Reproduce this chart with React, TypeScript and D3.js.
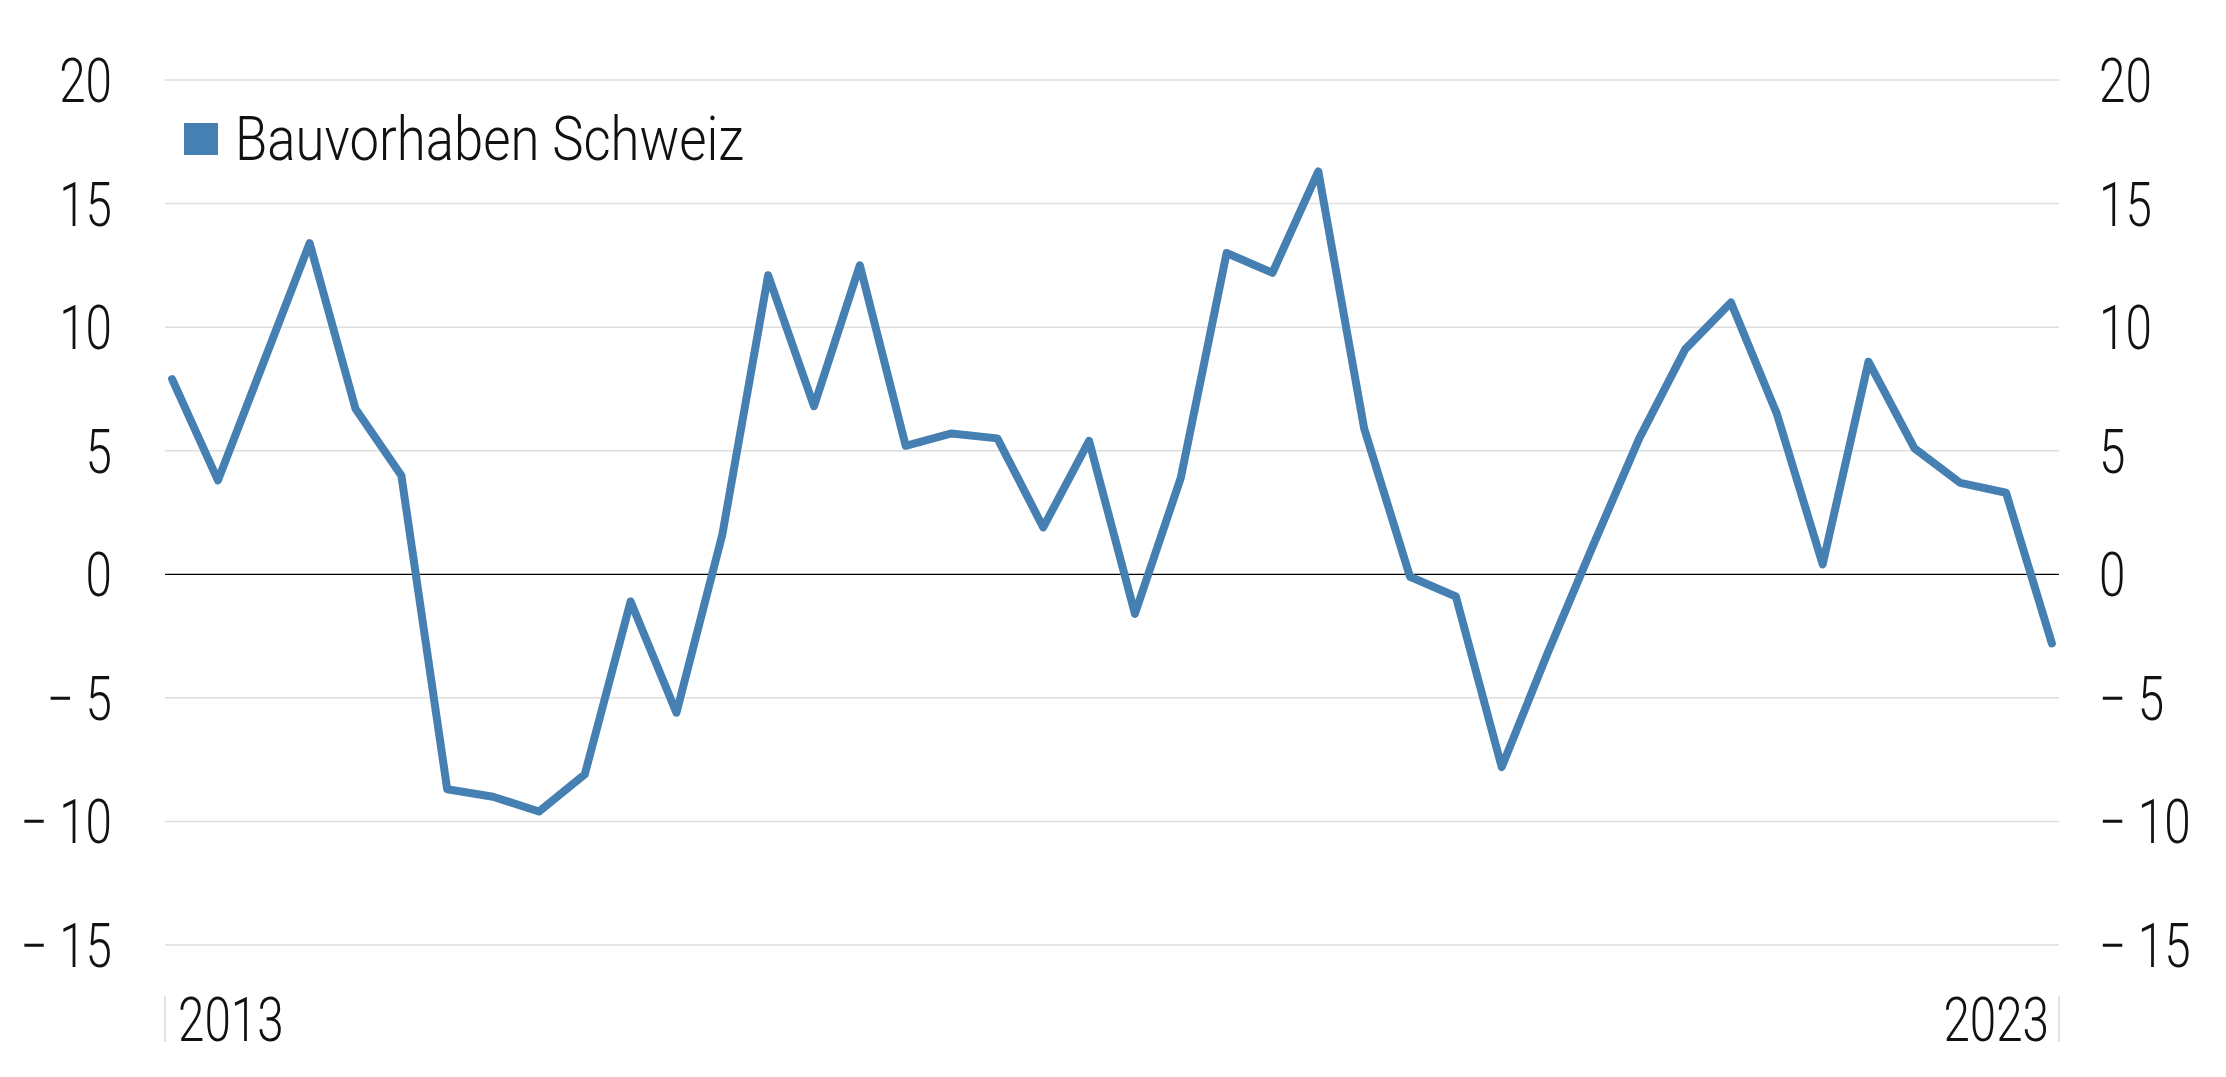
import * as d3 from "d3";

// Bauvorhaben Schweiz, quarterly 2013 Q1 – 2023 Q2 (%)
const quarters: string[] = [];
for (let y = 2013; y <= 2023; y++) {
  for (let q = 1; q <= 4; q++) {
    if (y === 2023 && q > 2) break;
    quarters.push(`${y}Q${q}`);
  }
}

const values = [
  7.9, 3.8, 8.6, 13.4, 6.7, 4.0, -8.7, -9.0, -9.6, -8.1,
  -1.1, -5.6, 1.6, 12.1, 6.8, 12.5, 5.2, 5.7, 5.5, 1.9,
  5.4, -1.6, 3.9, 13.0, 12.2, 16.3, 5.9, -0.1, -0.9, -7.8,
  -3.2, 1.2, 5.5, 9.1, 11.0, 6.5, 0.4, 8.6, 5.1, 3.7,
  3.3, -2.8,
];

const yTicks = [20, 15, 10, 5, 0, -5, -10, -15];
const yearLabels = ["2013", "2023"];
const seriesName = "Bauvorhaben Schweiz";

const W = 2226;
const H = 1077;
const left = 165;
const right = 2059;
const top = 80;
const bottom = 945;
const FONT = "Roboto, 'Liberation Sans Narrow', 'DejaVu Sans Condensed', sans-serif";
const SX = 0.78;

const fmt = (v: number) => (v < 0 ? `\u2212 ${Math.abs(v)}` : `${v}`);

export default function App() {
  const x = d3.scalePoint<string>().domain(quarters).range([left, right]).padding(0.155);
  const y = d3.scaleLinear().domain([-15, 20]).range([bottom, top]);

  const line = d3
    .line<number>()
    .x((_, i) => x(quarters[i])!)
    .y((d) => y(d));

  return (
    <svg
      width={W}
      height={H}
      style={{ position: "absolute", left: 0, top: 0, background: "#fff", display: "block" }}
    >
      <rect width={W} height={H} fill="#fff" />
      {yTicks.map((t) => (
        <g key={t}>
          <line
            x1={left}
            x2={right}
            y1={y(t)}
            y2={y(t)}
            stroke={t === 0 ? "#000" : "#dedede"}
            strokeWidth={t === 0 ? 1.2 : 1.5}
          />
          <text
            transform={`translate(112,${y(t) + 22}) scale(${SX},1)`}
            textAnchor="end"
            fontFamily={FONT}
            fontWeight={300}
            fontSize={61}
            fill="#111"
          >
            {fmt(t)}
          </text>
          <text
            transform={`translate(2099,${y(t) + 22}) scale(${SX},1)`}
            textAnchor="start"
            fontFamily={FONT}
            fontWeight={300}
            fontSize={61}
            fill="#111"
          >
            {fmt(t)}
          </text>
        </g>
      ))}

      {/* year ticks */}
      <line x1={left} x2={left} y1={996} y2={1042} stroke="#cfcfcf" strokeWidth={1.2} />
      <line x1={right} x2={right} y1={996} y2={1042} stroke="#cfcfcf" strokeWidth={1.2} />
      <text
        transform={`translate(${left + 13},1041) scale(${SX},1)`}
        textAnchor="start"
        fontFamily={FONT}
        fontWeight={300}
        fontSize={61}
        fill="#111"
      >
        {yearLabels[0]}
      </text>
      <text
        transform={`translate(${right - 10},1041) scale(${SX},1)`}
        textAnchor="end"
        fontFamily={FONT}
        fontWeight={300}
        fontSize={61}
        fill="#111"
      >
        {yearLabels[1]}
      </text>

      <path
        d={line(values) ?? ""}
        fill="none"
        stroke="#4680b3"
        strokeWidth={8}
        strokeLinejoin="round"
        strokeLinecap="round"
      />

      {/* legend */}
      <rect x={184} y={123} width={34} height={32} fill="#4680b3" />
      <text
        x={235}
        y={160}
        fontFamily={FONT}
        fontWeight={300}
        fontSize={61}
        fill="#111"
        textLength={509}
        lengthAdjust="spacingAndGlyphs"
      >
        {seriesName}
      </text>
    </svg>
  );
}
